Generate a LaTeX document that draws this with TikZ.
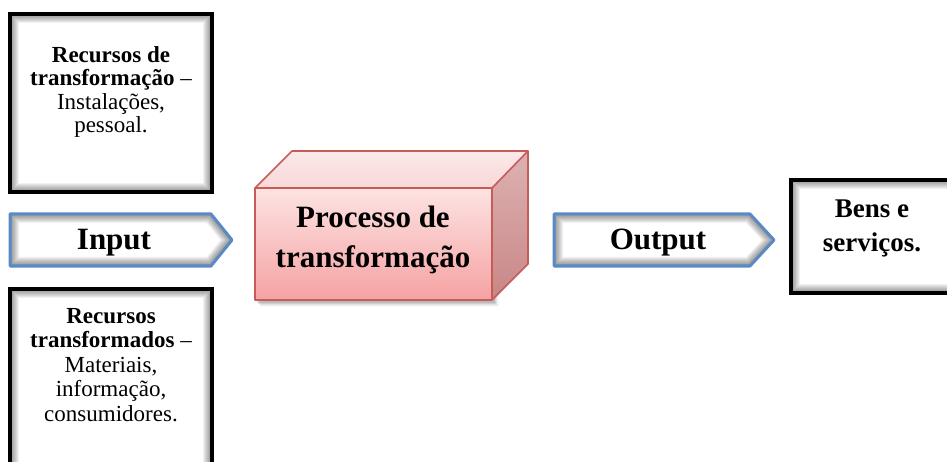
\documentclass[tikz,border=0pt]{standalone}
\usepackage{fontspec}
\setmainfont{Liberation Serif}
\definecolor{arrowblue}{HTML}{5A8AC6}
\definecolor{cubeedge}{HTML}{C85A58}
\definecolor{fronttop}{HTML}{FDE3E3}
\definecolor{frontbot}{HTML}{F5A2A2}
\definecolor{toptop}{HTML}{FBE9E9}
\definecolor{topbot}{HTML}{F8D8D8}
\definecolor{sidetop}{HTML}{DDB2B2}
\definecolor{sidebot}{HTML}{C98686}
\tikzset{
  boxborder/.style={draw=black, line width=3.2pt, line join=miter},
  arrowborder/.style={draw=arrowblue, line width=3pt, line join=round},
  glowline/.style={draw=black, opacity=0.055},
  smalltext/.style={align=center, font=\fontsize{23}{23.5}\selectfont},
  bigtext/.style={align=center, font=\fontsize{31}{40}\selectfont\bfseries},
}
\begin{document}
\begin{tikzpicture}[x=1pt,y=-1pt]
\useasboundingbox (0,0) rectangle (947,462);
\fill[white] (0,0) rectangle (947,462);

% ---------- top-left box ----------
\fill[white] (10,14) rectangle (212,192);
\begin{scope}
  \clip (10,14) rectangle (212,192);
  \foreach \w in {2,4,...,18} \draw[glowline, line width=\w pt] (10,14) rectangle (212,192);
\end{scope}
\draw[boxborder] (10,14) rectangle (212,192);
\node[smalltext] (toptext) at (111,92)
  {\textbf{Recursos de}\\\textbf{transformação} –\\Instalações,\\pessoal.};

% ---------- bottom-left box ----------
\fill[white] (10,289) rectangle (212,475);
\begin{scope}
  \clip (10,289) rectangle (212,475);
  \foreach \w in {2,4,...,18} \draw[glowline, line width=\w pt] (10,289) rectangle (212,475);
\end{scope}
\draw[boxborder] (10,289) rectangle (212,475);
\node[smalltext, font=\fontsize{23}{24.5}\selectfont] (bottext) at (111,365)
  {\textbf{Recursos}\\\textbf{transformados} –\\Materiais,\\informação,\\consumidores.};

% ---------- Input arrow ----------
\fill[white] (10,214) -- (211,214) -- (232,240) -- (211,266) -- (10,266) -- cycle;
\begin{scope}
  \clip (10,214) -- (211,214) -- (232,240) -- (211,266) -- (10,266) -- cycle;
  \foreach \w in {2,4,...,18} \draw[glowline, line width=\w pt] (10,214) -- (211,214) -- (232,240) -- (211,266) -- (10,266) -- cycle;
\end{scope}
\draw[arrowborder] (10,214) -- (211,214) -- (232,240) -- (211,266) -- (10,266) -- cycle;
\node[bigtext] (input) at (114,243) {Input};

% ---------- Output arrow ----------
\fill[white] (554,214) -- (750,214) -- (774,240) -- (750,266) -- (554,266) -- cycle;
\begin{scope}
  \clip (554,214) -- (750,214) -- (774,240) -- (750,266) -- (554,266) -- cycle;
  \foreach \w in {2,4,...,18} \draw[glowline, line width=\w pt] (554,214) -- (750,214) -- (774,240) -- (750,266) -- (554,266) -- cycle;
\end{scope}
\draw[arrowborder] (554,214) -- (750,214) -- (774,240) -- (750,266) -- (554,266) -- cycle;
\node[bigtext] (output) at (658,243) {Output};

% ---------- right box ----------
\fill[white] (791,180) rectangle (960,293);
\begin{scope}
  \clip (791,180) rectangle (960,293);
  \foreach \w in {2,4,...,18} \draw[glowline, line width=\w pt] (791,180) rectangle (960,293);
\end{scope}
\draw[boxborder] (791,180) rectangle (960,293);
\node[align=center, font=\fontsize{27}{34}\selectfont\bfseries] (bens) at (872,228)
  {Bens e\\serviços.};

% ---------- cube ----------
% soft shadow
\foreach \d/\o in {1/0.10,2/0.08,3/0.06,4/0.04,5/0.02}
  \fill[black, opacity=\o] (256+\d,190+\d) rectangle (494+\d,302+\d);
\shade[top color=fronttop, bottom color=frontbot] (255,188) rectangle (492,300);
\shade[top color=toptop, bottom color=topbot] (255,188) -- (292,151) -- (528,151) -- (492,188) -- cycle;
\shade[top color=sidetop, bottom color=sidebot] (492,188) -- (528,151) -- (528,264) -- (492,300) -- cycle;
\draw[cubeedge, line width=1.6pt, line join=round]
  (255,188) -- (292,151) -- (528,151) -- (528,264) -- (492,300) -- (255,300) -- cycle;
\draw[cubeedge, line width=1.6pt, line join=round]
  (255,188) -- (492,188) -- (528,151) (492,188) -- (492,300);
\node[bigtext] (proc) at (373,240) {Processo de\\transformação};
\end{tikzpicture}
\end{document}
